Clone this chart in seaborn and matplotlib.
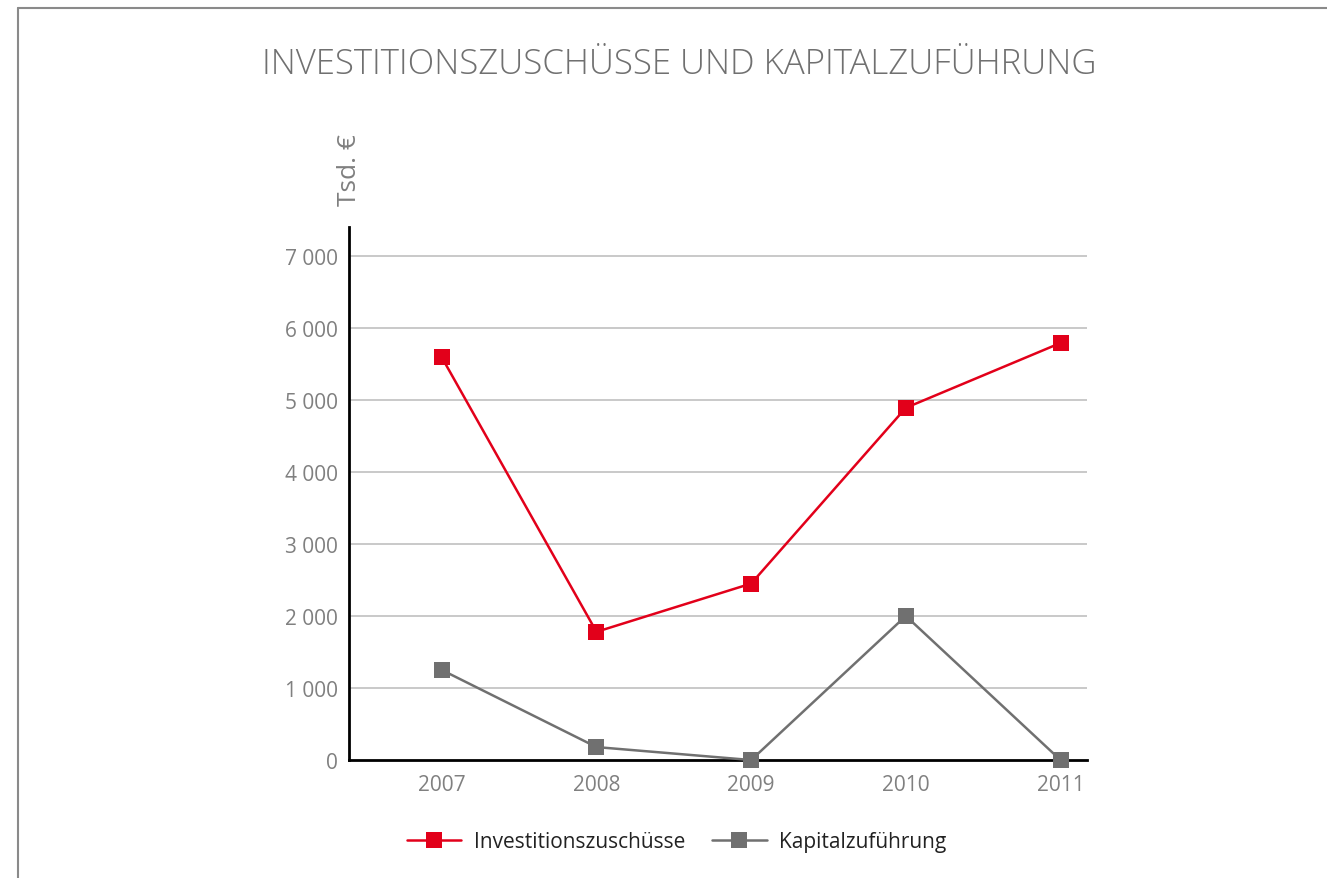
import matplotlib
matplotlib.use("Agg")
import matplotlib.pyplot as plt
from matplotlib.lines import Line2D
import seaborn as sns
import pandas as pd

years = ["2007", "2008", "2009", "2010", "2011"]
investitionszuschuesse = [5590, 1780, 2450, 4890, 5790]
kapitalzufuehrung = [1250, 180, 0, 2000, 0]
series_names = ["Investitionszuschüsse", "Kapitalzuführung"]
yticks = [0, 1000, 2000, 3000, 4000, 5000, 6000, 7000]

df = pd.DataFrame({
    "pos": list(range(len(years))) * 2,
    "value": investitionszuschuesse + kapitalzufuehrung,
    "series": [series_names[0]] * len(years) + [series_names[1]] * len(years),
})

sns.set_style("white")
plt.rcParams["font.family"] = ["Open Sans", "DejaVu Sans"]

RED = "#e2001a"
GRAY = "#707070"
TICK = "#808080"

fig = plt.figure(figsize=(13.27, 8.79), dpi=100)
ax = fig.add_axes([0.263, 0.1342, 0.556, 0.6064])

# faint frame around the chart
fig.add_artist(Line2D([18 / 1327, 18 / 1327], [0, 1 - 9 / 879], transform=fig.transFigure,
                      color="#8a8a8a", lw=1.5))
fig.add_artist(Line2D([18 / 1327, 1], [1 - 9 / 879, 1 - 9 / 879], transform=fig.transFigure,
                      color="#8a8a8a", lw=1.5))

for y in yticks[1:]:
    ax.axhline(y, color="#c0c0c0", lw=1.2, zorder=0)

sns.lineplot(data=df, x="pos", y="value", hue="series", palette=[RED, GRAY],
             marker="s", markersize=11, markeredgewidth=0, linewidth=1.8,
             ax=ax, legend=False, zorder=3, clip_on=False)

ax.set_xlim(-0.6, 4.17)
ax.set_ylim(0, 7400)
ax.set_xticks(range(len(years)))
ax.set_xticklabels(years)
ax.set_yticks(yticks)
ax.set_yticklabels([f"{v:,}".replace(",", " ") for v in yticks])
ax.tick_params(axis="both", length=0, labelsize=15, labelcolor=TICK)
ax.tick_params(axis="x", pad=10)
ax.tick_params(axis="y", pad=8)
ax.set_xlabel("")
ax.set_ylabel("")
for side in ["top", "right"]:
    ax.spines[side].set_visible(False)
for side in ["left", "bottom"]:
    ax.spines[side].set_color("black")
    ax.spines[side].set_linewidth(2)

ax.annotate("Tsd. €", xy=(0, 1), xycoords="axes fraction", xytext=(0, 16),
            textcoords="offset points", rotation=90, ha="center", va="bottom",
            fontsize=19, color=TICK)

fig.text(0.512, 1 - 65 / 879, "INVESTITIONSZUSCHÜSSE UND KAPITALZUFÜHRUNG",
         ha="center", va="center", fontsize=25, color="#707070", fontweight="light")

handles = [Line2D([], [], color=RED, marker="s", markersize=11, markeredgewidth=0, lw=1.8),
           Line2D([], [], color=GRAY, marker="s", markersize=11, markeredgewidth=0, lw=1.8)]
fig.legend(handles, series_names, loc="center", bbox_to_anchor=(0.51, 1 - 843 / 879),
           ncol=2, frameon=False, fontsize=15, handlelength=2.6, handletextpad=0.6,
           columnspacing=1.3, labelcolor="#222222")

fig.savefig("out.png", dpi=100)
